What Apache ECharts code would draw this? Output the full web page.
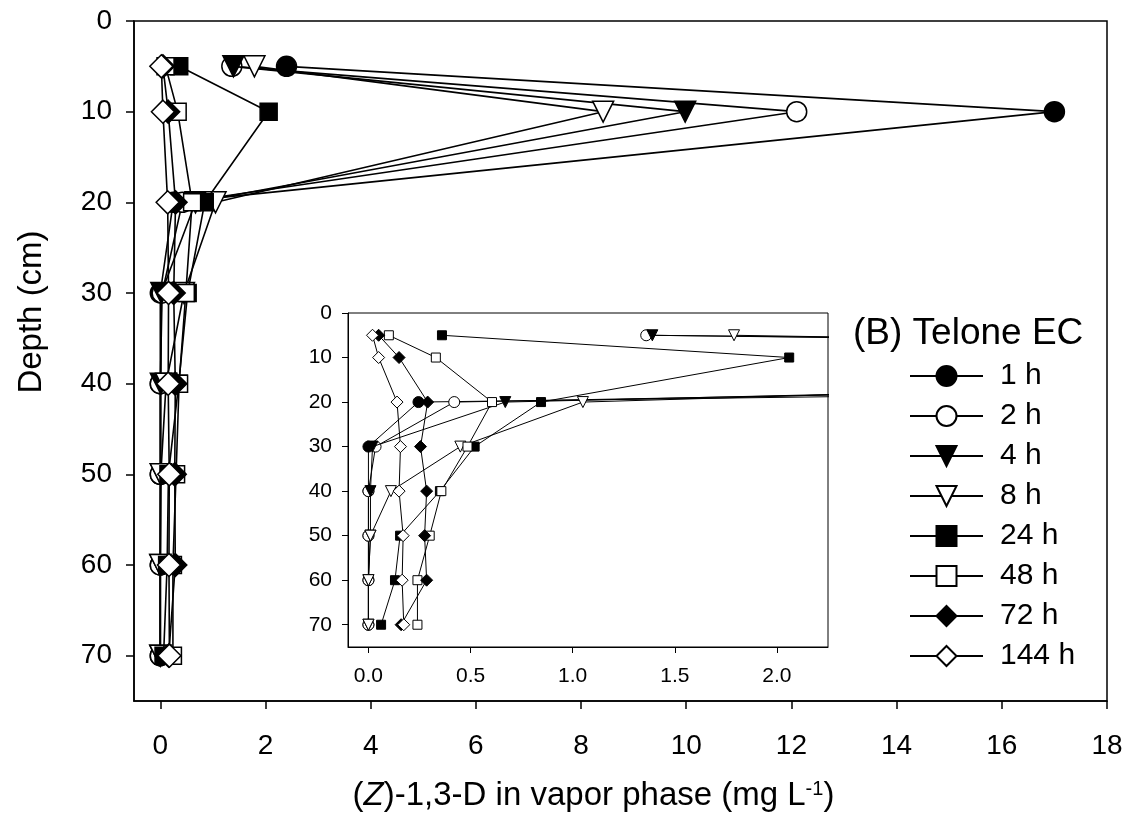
<!DOCTYPE html>
<html>
<head>
<meta charset="utf-8">
<title>Telone EC vapor phase</title>
<script src="https://cdn.jsdelivr.net/npm/echarts@6/dist/echarts.min.js"></script>
<style>
  html, body { margin: 0; padding: 0; background: #fff; }
  #chart { width: 1135px; height: 818px; }
</style>
</head>
<body>
<div id="chart"></div>
<script>
// depths (cm) sampled
const depths = [5, 10, 20, 30, 40, 50, 60, 70];
// sampling times (legend)
const times = ['1 h', '2 h', '4 h', '8 h', '24 h', '48 h', '72 h', '144 h'];
// (Z)-1,3-D in vapor phase, mg/L, one array per time, by depth
const h1 = [2.4, 17.0, 0.245, 0.0, 0.0, 0.0, 0.0, 0.0];
const h2 = [1.36, 12.1, 0.42, 0.035, 0.0, 0.0, 0.0, 0.0];
const h4 = [1.39, 9.98, 0.67, 0.02, 0.01, 0.01, 0.0, 0.0];
const h8 = [1.79, 8.42, 1.05, 0.45, 0.11, 0.01, 0.0, 0.0];
const h24 = [0.36, 2.06, 0.845, 0.52, 0.35, 0.155, 0.13, 0.062];
const h48 = [0.10, 0.33, 0.605, 0.485, 0.357, 0.30, 0.24, 0.24];
const h72 = [0.05, 0.15, 0.29, 0.255, 0.285, 0.275, 0.285, 0.16];
const h144 = [0.02, 0.05, 0.14, 0.157, 0.15, 0.17, 0.165, 0.173];
const allSeries = [h1, h2, h4, h8, h24, h48, h72, h144];
// tick labels
const xTicksMain = [0, 2, 4, 6, 8, 10, 12, 14, 16, 18];
const xTicksInset = [0, 0.5, 1.0, 1.5, 2.0];
const depthTicks = [0, 10, 20, 30, 40, 50, 60, 70];

// marker look for each time
const marks = [
  { symbol: 'circle', fill: '#000', rot: 0, big: 20, small: 11 },
  { symbol: 'circle', fill: '#fff', rot: 0, big: 20, small: 11 },
  { symbol: 'triangle', fill: '#000', rot: 180, big: 21, small: 11 },
  { symbol: 'triangle', fill: '#fff', rot: 180, big: 21, small: 11 },
  { symbol: 'rect', fill: '#000', rot: 0, big: 17, small: 9 },
  { symbol: 'rect', fill: '#fff', rot: 0, big: 17, small: 9 },
  { symbol: 'diamond', fill: '#000', rot: 0, big: 23, small: 12 },
  { symbol: 'diamond', fill: '#fff', rot: 0, big: 23, small: 12 }
];

const font = 'Liberation Sans, Arial, sans-serif';

const makeSeries = (inset) => allSeries.map((vals, i) => ({
  name: times[i],
  type: 'line',
  xAxisIndex: inset ? 1 : 0,
  yAxisIndex: inset ? 1 : 0,
  data: depths.map((d, k) => [vals[k], d]),
  symbol: marks[i].symbol,
  symbolRotate: marks[i].rot,
  symbolSize: inset ? marks[i].small : marks[i].big,
  showAllSymbol: true,
  clip: true,
  animation: false,
  lineStyle: { color: '#000', width: inset ? 1 : 1.6 },
  itemStyle: { color: marks[i].fill, borderColor: '#000', borderWidth: inset ? 1 : 1.5, opacity: 1 },
  emphasis: { disabled: true },
  z: 2 + i * 0.01
}));

const axisLine = (w) => ({ show: true, onZero: false, lineStyle: { color: '#000', width: w } });

const chart = echarts.init(document.getElementById('chart'));
chart.setOption({
  backgroundColor: '#fff',
  animation: false,
  title: {
    text: '(B) Telone EC',
    left: 848,
    top: 310,
    textStyle: { fontFamily: font, fontSize: 37, fontWeight: 'normal', color: '#000' }
  },
  legend: {
    orient: 'vertical',
    left: 904,
    top: 356,
    itemWidth: 73,
    itemHeight: 25,
    itemGap: 10,
    data: times,
    selectedMode: false,
    textStyle: { fontFamily: font, fontSize: 30, color: '#000', padding: [0, 0, 0, 12] }
  },
  grid: [
    { left: 134, right: 28, top: 21, bottom: 117, show: true, borderColor: '#000', borderWidth: 1.5, backgroundColor: 'transparent' },
    { left: 348, right: 307, top: 313, bottom: 171, show: true, borderColor: '#000', borderWidth: 1, backgroundColor: '#fff' }
  ],
  xAxis: [
    {
      type: 'value', gridIndex: 0, min: -0.5, max: 18,
      name: '({i|Z})-1,3-D in vapor phase (mg L{sup|-1})',
      nameLocation: 'middle', nameGap: 78,
      nameTextStyle: {
        fontFamily: font, fontSize: 33, color: '#000', padding: [0, 54, 0, 0],
        rich: {
          i: { fontFamily: font, fontSize: 33, fontStyle: 'italic', color: '#000' },
          sup: { fontFamily: font, fontSize: 20, color: '#000', verticalAlign: 'top', padding: [0, 0, 14, 0] }
        }
      },
      axisLine: axisLine(1.5),
      axisTick: { show: true, inside: false, length: 8, customValues: xTicksMain, lineStyle: { color: '#000', width: 1.5 } },
      axisLabel: { customValues: xTicksMain, margin: 31, fontFamily: font, fontSize: 28, color: '#000' },
      splitLine: { show: false }
    },
    {
      type: 'value', gridIndex: 1, min: -0.1, max: 2.25,
      axisLine: axisLine(1),
      axisTick: { show: true, inside: false, length: 6, customValues: xTicksInset, lineStyle: { color: '#000' } },
      axisLabel: { customValues: xTicksInset, margin: 19, fontFamily: font, fontSize: 21, color: '#000',
        formatter: (v) => v.toFixed(1) },
      splitLine: { show: false }
    }
  ],
  yAxis: [
    {
      type: 'value', gridIndex: 0, min: 0, max: 75, inverse: true,
      name: 'Depth (cm)', nameLocation: 'middle', nameGap: 86,
      nameTextStyle: { fontFamily: font, fontSize: 33, color: '#000', padding: [0, 0, 0, 98] },
      axisLine: axisLine(1.5),
      axisTick: { show: true, inside: false, length: 8, customValues: depthTicks, lineStyle: { color: '#000', width: 1.5 } },
      axisLabel: { customValues: depthTicks, margin: 22, fontFamily: font, fontSize: 28, color: '#000' },
      splitLine: { show: false }
    },
    {
      type: 'value', gridIndex: 1, min: 0, max: 75, inverse: true,
      axisLine: axisLine(1),
      axisTick: { show: true, inside: false, length: 6, customValues: depthTicks, lineStyle: { color: '#000' } },
      axisLabel: { customValues: depthTicks, margin: 16, fontFamily: font, fontSize: 21, color: '#000' },
      splitLine: { show: false }
    }
  ],
  series: makeSeries(false).concat(makeSeries(true))
});
</script>
</body>
</html>
